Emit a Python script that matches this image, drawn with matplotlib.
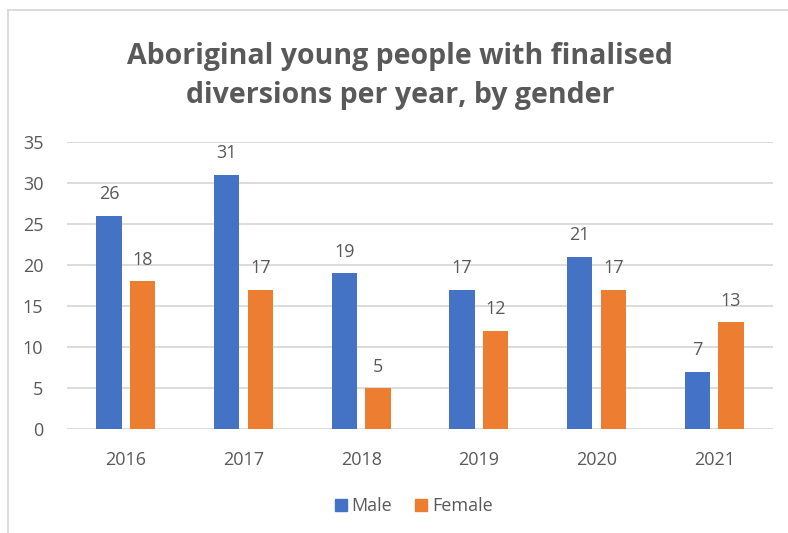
import numpy as np
import matplotlib.pyplot as plt
from matplotlib.lines import Line2D

plt.rcParams['font.family'] = ['Open Sans', 'DejaVu Sans']

years = ['2016', '2017', '2018', '2019', '2020', '2021']
male = [26, 31, 19, 17, 21, 7]
female = [18, 17, 5, 12, 17, 13]

blue = '#4472C4'
orange = '#ED7D31'
grey = '#595959'

fig = plt.figure(figsize=(7.88, 5.33), dpi=100)
ax = fig.add_axes([0.085, 0.195, 0.896, 0.539])

x = np.arange(len(years))
w = 0.213
b1 = ax.bar(x - 0.143, male, w, color=blue, label='Male')
b2 = ax.bar(x + 0.143, female, w, color=orange, label='Female')

for bars in (b1, b2):
    for b in bars:
        ax.annotate(str(int(b.get_height())), (b.get_x() + b.get_width() / 2, b.get_height()),
                    xytext=(0, 9), textcoords='offset points', ha='center', va='bottom',
                    fontsize=13, color=grey)

ax.set_xlim(-0.5, 5.5)
ax.set_ylim(0, 35)
ax.set_yticks(range(0, 36, 5))
ax.set_xticks(x)
ax.set_xticklabels(years)
ax.tick_params(axis='both', length=0, labelsize=13, colors=grey)
ax.tick_params(axis='x', pad=16)
ax.tick_params(axis='y', pad=17)
ax.yaxis.grid(True, color='#D9D9D9', linewidth=1.3)
ax.set_axisbelow(True)
for s in ax.spines.values():
    s.set_visible(False)

fig.text(0.508, 0.858, 'Aboriginal young people with finalised\ndiversions per year, by gender',
         ha='center', va='center', fontsize=20.5, fontweight='bold', color=grey, linespacing=1.45)

handles = [Line2D([], [], marker='s', linestyle='', markersize=8, color=blue),
           Line2D([], [], marker='s', linestyle='', markersize=8, color=orange)]
fig.legend(handles, ['Male', 'Female'], loc='center', bbox_to_anchor=(0.522, 0.05), ncol=2,
           frameon=False, fontsize=13, labelcolor=grey, handletextpad=0.0, columnspacing=1.0,
           handlelength=1.2)

# chart border (left and top edges visible)
fig.add_artist(Line2D([0.0102, 0.0102], [0, 0.981], color='#D9D9D9', linewidth=1.3))
fig.add_artist(Line2D([0.0102, 1.0], [0.981, 0.981], color='#D9D9D9', linewidth=1.3))

fig.savefig('out.png', dpi=100)
